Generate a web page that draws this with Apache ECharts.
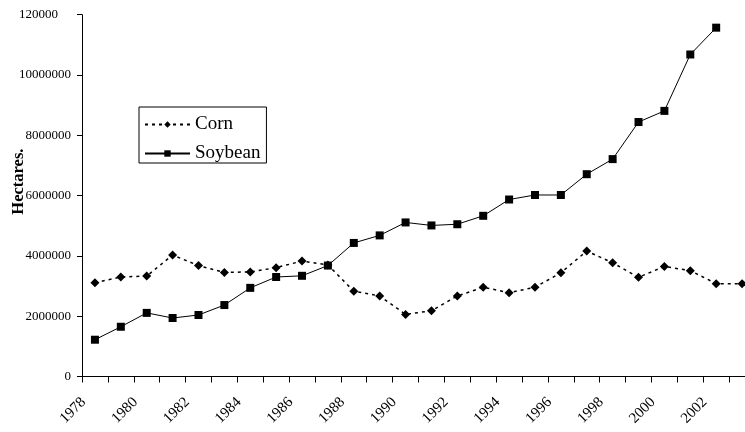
<!DOCTYPE html>
<html>
<head>
<meta charset="utf-8">
<script src="https://cdn.jsdelivr.net/npm/echarts@6/dist/echarts.min.js"></script>
<style>html,body{margin:0;padding:0;background:#fff}#c{width:745px;height:432px}</style>
</head>
<body>
<div id="c"></div>
<script>
var years = ['1978','1979','1980','1981','1982','1983','1984','1985','1986','1987','1988','1989','1990','1991','1992','1993','1994','1995','1996','1997','1998','1999','2000','2001','2002','2003'];
var corn = [3110000,3300000,3330000,4030000,3680000,3450000,3470000,3610000,3830000,3700000,2830000,2670000,2060000,2180000,2670000,2960000,2780000,2960000,3440000,4160000,3770000,3290000,3650000,3510000,3080000,3080000];
var soybean = [1220000,1650000,2110000,1940000,2040000,2370000,2940000,3300000,3340000,3680000,4430000,4680000,5110000,5010000,5050000,5330000,5870000,6020000,6020000,6710000,7210000,8440000,8810000,10680000,11570000,null];
var yTicks = [0,2000000,4000000,6000000,8000000,10000000,12000000];
var topLabel = '120000';

var font = '"Liberation Serif","Times New Roman",serif';
var chart = echarts.init(document.getElementById('c'));
chart.setOption({
  animation: false,
  backgroundColor: '#fff',
  textStyle: {fontFamily: font, color: '#000'},
  grid: {left: 82, right: -10, top: 14.7, bottom: 55.5, containLabel: false, outerBoundsMode: 'none'},
  legend: {
    orient: 'vertical', left: 139, top: 107,
    padding: [8, 6, 0, 5], itemGap: 10,
    itemWidth: 45, itemHeight: 8,
    borderColor: '#000', borderWidth: 1, backgroundColor: '#fff',
    textStyle: {fontFamily: font, fontSize: 19, color: '#000', padding: [0,0,0,0]},
    data: ['Corn', 'Soybean']
  },
  xAxis: {
    type: 'category', data: years, boundaryGap: true,
    axisLine: {lineStyle: {color: '#000', width: 1}},
    axisTick: {show: true, interval: 0, length: 6, lineStyle: {color: '#000'}},
    axisLabel: {interval: 1, rotate: 45, fontSize: 15, color: '#000', fontFamily: font, margin: 12, padding: [0, 16, 0, 0]},
    splitLine: {show: false}
  },
  yAxis: {
    type: 'value', min: 0, max: 12000000, interval: 2000000,
    name: 'Hectares.', nameLocation: 'middle', nameGap: 55, nameRotate: 90, nameMoveOverlap: false,
    nameTextStyle: {fontFamily: font, fontSize: 16.5, fontWeight: 'bold', color: '#000', padding: [0, 0, 0, 28]},
    axisLine: {show: true, lineStyle: {color: '#000', width: 1}},
    axisTick: {show: true, length: 5, lineStyle: {color: '#000'}},
    splitLine: {show: false},
    axisLabel: {
      fontSize: 13, color: '#000', fontFamily: font, margin: 11,
      formatter: function (v) { return v === yTicks[yTicks.length - 1] ? '{t|' + topLabel + '}' : String(v); },
      rich: {t: {fontSize: 13, fontFamily: font, color: '#000', padding: [0, 13, 0, 0]}}
    }
  },
  series: [
    {
      name: 'Corn', type: 'line', data: corn,
      symbol: 'diamond', symbolSize: 9,
      lineStyle: {color: '#000', width: 1.5, type: [3, 4]},
      itemStyle: {color: '#000'}
    },
    {
      name: 'Soybean', type: 'line', data: soybean,
      symbol: 'rect', symbolSize: 8,
      lineStyle: {color: '#000', width: 1},
      itemStyle: {color: '#000'}
    }
  ]
});
</script>
</body>
</html>
